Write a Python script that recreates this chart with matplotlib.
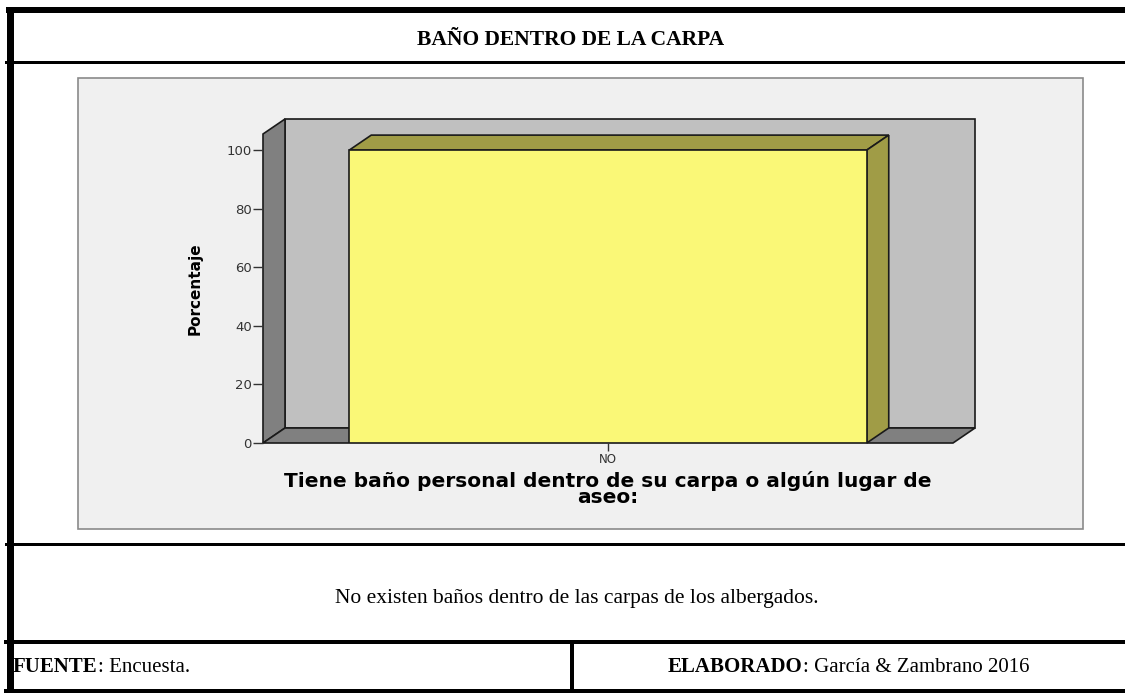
import matplotlib
matplotlib.use("Agg")
import matplotlib.pyplot as plt
from matplotlib.patches import Polygon, Rectangle

# data
categories = ["NO"]
percentages = [100.0]
y_ticks = [0, 20, 40, 60, 80, 100]

title = "BAÑO DENTRO DE LA CARPA"
x_title = "Tiene baño personal dentro de su carpa o algún lugar de\naseo:"
y_title = "Porcentaje"
note = "No existen baños dentro de las carpas de los albergados."

W, H = 1125, 693
fig = plt.figure(figsize=(W / 100, H / 100), dpi=100)
fig.patch.set_facecolor("white")

# full-figure axes in pixel units for the table frame
frame = fig.add_axes([0, 0, 1, 1])
frame.set_xlim(0, W)
frame.set_ylim(H, 0)
frame.axis("off")

def px(n):
    return n * 72 / 100   # pixels -> points

# table lines
frame.plot([6, W], [10, 10], color="black", lw=px(6), solid_capstyle="butt")
frame.plot([9.5, 9.5], [7, H], color="black", lw=px(7), solid_capstyle="butt")
frame.plot([6, W], [62, 62], color="black", lw=px(3))
frame.plot([6, W], [544, 544], color="black", lw=px(3))
frame.plot([6, W], [642, 642], color="black", lw=px(4))
frame.plot([6, W], [690.5, 690.5], color="black", lw=px(5))
frame.plot([571.5, 571.5], [642, H], color="black", lw=px(4))

# grey chart panel
frame.add_patch(Rectangle((78, 78), 1005, 451, facecolor="#F0F0F0",
                          edgecolor="#8A8A8A", lw=1.2))

serif = "Liberation Serif"
frame.text(571, 40, title, ha="center", va="center", fontsize=15.5,
           fontweight="bold", family=serif)
frame.text(577, 599, note, ha="center", va="center", fontsize=15.5, family=serif)

t1 = frame.text(13, 677, "FUENTE", ha="left", va="bottom", fontsize=15,
                fontweight="bold", family=serif)
frame.annotate(": Encuesta.", xy=(1, 0), xycoords=t1, ha="left", va="bottom",
               fontsize=15, family=serif)
t2 = frame.text(668, 677, "ELABORADO", ha="left", va="bottom", fontsize=15,
                fontweight="bold", family=serif)
frame.annotate(": García & Zambrano 2016", xy=(1, 0), xycoords=t2, ha="left",
               va="bottom", fontsize=15, family=serif)

# chart axes: front plane from x 263..953 px, y 443..134 px
left, right, bottom, top = 263, 953, 443, 134
ax = fig.add_axes([left / W, (H - bottom) / H, (right - left) / W, (bottom - top) / H])
ax.patch.set_alpha(0)
ymax = 105.5
ax.set_xlim(-0.5, 0.5)
ax.set_ylim(0, ymax)
for s in ax.spines.values():
    s.set_visible(False)

# depth offset of the pseudo 3D box, in data units
dx = 22 / (right - left)
dy = 15 / ((bottom - top) / ymax)

x0, x1 = -0.5, 0.5
back = Polygon([(x0 + dx, dy), (x1 + dx, dy), (x1 + dx, ymax + dy), (x0 + dx, ymax + dy)],
               closed=True, facecolor="#C0C0C0", edgecolor="#1a1a1a", lw=1.2, clip_on=False, zorder=1)
side = Polygon([(x0, 0), (x0 + dx, dy), (x0 + dx, ymax + dy), (x0, ymax)],
               closed=True, facecolor="#808080", edgecolor="#1a1a1a", lw=1.2, clip_on=False, zorder=1)
floor = Polygon([(x0, 0), (x1, 0), (x1 + dx, dy), (x0 + dx, dy)],
                closed=True, facecolor="#808080", edgecolor="#1a1a1a", lw=1.2, clip_on=False, zorder=1)
for p in (back, side, floor):
    ax.add_patch(p)

bar_w = 0.75
bars = ax.bar(categories, percentages, width=bar_w, color="#FAF877",
              edgecolor="#1a1a1a", lw=1.2, zorder=3)
for b in bars:
    bx0 = b.get_x()
    bx1 = bx0 + b.get_width()
    v = b.get_height()
    ax.add_patch(Polygon([(bx0, v), (bx1, v), (bx1 + dx, v + dy), (bx0 + dx, v + dy)],
                         closed=True, facecolor="#A09C46", edgecolor="#1a1a1a",
                         lw=1.2, clip_on=False, zorder=2))
    ax.add_patch(Polygon([(bx1, 0), (bx1 + dx, dy), (bx1 + dx, v + dy), (bx1, v)],
                         closed=True, facecolor="#A09C46", edgecolor="#1a1a1a",
                         lw=1.2, clip_on=False, zorder=2))

ax.set_yticks(y_ticks)
ax.tick_params(axis="y", length=7, width=1, color="#333333", labelsize=9.5,
               labelcolor="#333333", pad=1)
ax.tick_params(axis="x", length=6, width=1, color="#333333", labelsize=8.5,
               labelcolor="#333333", pad=1)
for lab in ax.get_xticklabels() + ax.get_yticklabels():
    lab.set_family("DejaVu Sans")

frame.text(608, 489, x_title, ha="center", va="center", fontsize=14.5,
           fontweight="bold", family="DejaVu Sans", linespacing=0.8)
frame.text(195, 289, y_title, ha="center", va="center", rotation=90,
           fontsize=11, fontweight="bold",
           family=["Liberation Sans Narrow", "DejaVu Sans"])

fig.savefig("out.png", dpi=100)
